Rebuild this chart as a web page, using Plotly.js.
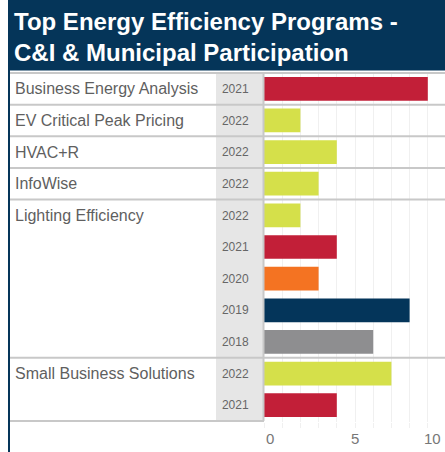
<!DOCTYPE html>
<html>
<head>
<meta charset="utf-8">
<script src="https://cdn.plot.ly/plotly-3.0.1.min.js"></script>
<style>html,body{margin:0;padding:0;background:#fff;}#chart{width:445px;height:452px;}</style>
</head>
<body>
<div id="chart"></div>
<script>
const programs = ["Business Energy Analysis","EV Critical Peak Pricing","HVAC+R","InfoWise",
  "Lighting Efficiency","Lighting Efficiency","Lighting Efficiency","Lighting Efficiency","Lighting Efficiency",
  "Small Business Solutions","Small Business Solutions"];
const years = ["2021","2022","2022","2022","2022","2021","2020","2019","2018","2022","2021"];
const participation = [9,2,4,3,2,4,3,8,6,7,4];
const xTickVals = [0,5,10];
const xTickText = ["0","5","10"];

const yearColors = {"2022":"#d5e04a","2021":"#c21f38","2020":"#f47322","2019":"#04355a","2018":"#8e8e90"};
const FONT = "Arial, Liberation Sans, sans-serif";
const W = 445, H = 452;
const M = {l:264, r:2, t:72, b:30};
const PW = W - M.l - M.r, PH = H - M.t - M.b;
const px = v => (v - M.l) / PW;           // pixel x -> paper x
const py = v => (H - M.b - v) / PH;       // pixel y -> paper y
const xMax = PW / 18.2;

const rowKeys = programs.map((p,i) => p + " | " + years[i]);
const n = rowKeys.length;

const trace = {
  type:"bar", orientation:"h",
  x: participation, y: rowKeys,
  marker:{color: years.map(y => yearColors[y])},
  hoverinfo:"x+y"
};

const shapes = [];
const GRAY = "#c8c8c8";
// title banner
shapes.push({type:"rect", xref:"paper", yref:"paper", x0:px(8), x1:px(446), y0:py(70.5), y1:py(-2),
  fillcolor:"#053559", line:{width:0}, layer:"below"});
// year column background
shapes.push({type:"rect", xref:"paper", yref:"y", x0:px(216), x1:px(263), y0:-0.5, y1:n-0.5,
  fillcolor:"#e6e6e6", line:{width:0}, layer:"below"});
// row separators at group boundaries
const starts = [];
programs.forEach((p,i) => { if (i === 0 || p !== programs[i-1]) starts.push(i); });
starts.forEach(i => {
  shapes.push({type:"line", xref:"paper", yref:"y", x0:px(9), x1:px(446), y0:i-0.5, y1:i-0.5,
    line:{color:GRAY, width:2}});
});
shapes.push({type:"line", xref:"paper", yref:"y", x0:px(9), x1:px(264), y0:n-0.5, y1:n-0.5,
  line:{color:GRAY, width:2}});
// year column right border
shapes.push({type:"line", xref:"paper", yref:"y", x0:px(263.5), x1:px(263.5), y0:-0.5, y1:n-0.5,
  line:{color:GRAY, width:2}});
// left navy border
shapes.push({type:"line", xref:"paper", yref:"paper", x0:px(9), x1:px(9), y0:py(70), y1:py(453),
  line:{color:"#053559", width:2}});

const annotations = [];
starts.forEach(i => {
  annotations.push({xref:"paper", yref:"y", x:px(13), y:rowKeys[i], xanchor:"left", yanchor:"middle",
    text:programs[i], showarrow:false, font:{family:FONT, size:16, color:"#5f5f5f"}});
});
// axis tick labels, clamped to the axis ends like the original
xTickVals.forEach((v,i) => {
  const anchor = v <= 0 ? "left" : (v >= xMax ? "right" : "center");
  annotations.push({xref:"x", yref:"paper", x:Math.min(v, xMax), y:py(438), xanchor:anchor, yanchor:"middle",
    text:xTickText[i], showarrow:false, font:{family:FONT, size:15, color:"#777"}});
});

const layout = {
  width:W, height:H, margin:M,
  paper_bgcolor:"#fff", plot_bgcolor:"rgba(0,0,0,0)",
  showlegend:false, bargap:0.25,
  title:{text:"Top Energy Efficiency Programs -<br>C&I & Municipal Participation",
    font:{family:FONT, size:24, color:"#fff", weight:"bold"},
    xref:"container", yref:"container", x:14/W, xanchor:"left", y:1-30/H, yanchor:"middle"},
  xaxis:{range:[0, xMax], dtick:1, tick0:0, showgrid:true, gridcolor:"#f0f0f0", gridwidth:1,
    zeroline:false, showline:false, showticklabels:false, ticks:"outside", ticklen:5, tickcolor:"#f0f0f0",
    fixedrange:true},
  yaxis:{type:"category", autorange:"reversed", tickvals:rowKeys, ticktext:years,
    showgrid:false, zeroline:false, showline:false, ticks:"outside", ticklen:12, tickcolor:"rgba(0,0,0,0)",
    tickfont:{family:FONT, size:12, color:"#666"}, fixedrange:true},
  shapes, annotations
};
Plotly.newPlot("chart", [trace], layout, {displayModeBar:false, staticPlot:true});
</script>
</body>
</html>
